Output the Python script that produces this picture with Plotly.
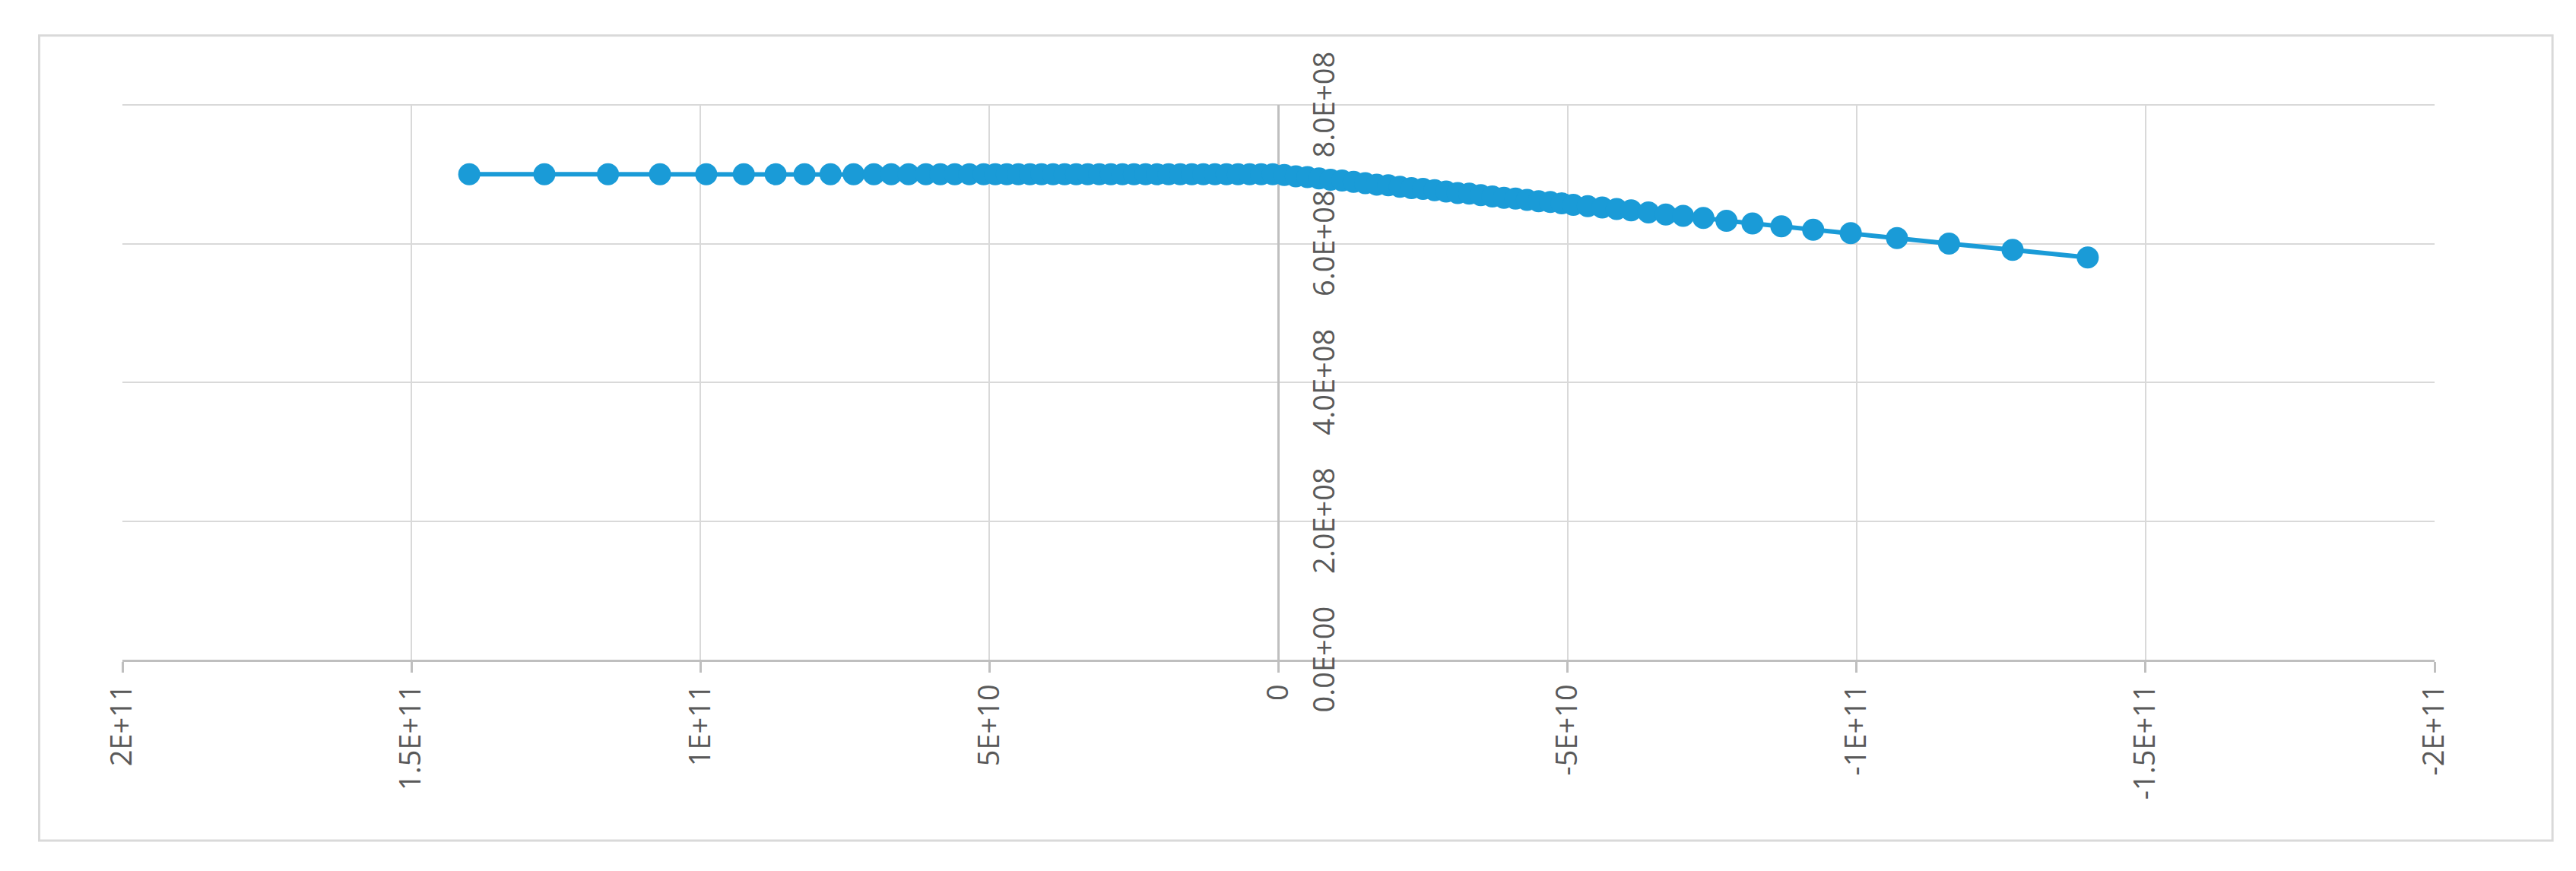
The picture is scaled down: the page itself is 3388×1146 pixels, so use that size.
import plotly.graph_objects as go

# x values in units of 1e10 (positive branch, listed descending)
x_pos = [14.0, 12.7, 11.6, 10.7, 9.9, 9.25, 8.7, 8.2, 7.75, 7.35, 7.0, 6.7, 6.4, 6.1, 5.85, 5.6, 5.35,
         5.1, 4.9, 4.7, 4.5, 4.3, 4.1, 3.9, 3.7, 3.5, 3.3, 3.1, 2.9, 2.7, 2.5, 2.3, 2.1, 1.9, 1.7, 1.5,
         1.3, 1.1, 0.9, 0.7, 0.5, 0.3, 0.1]
# y values (1e8) on positive side
y_pos = [7.0] * len(x_pos)
# negative branch |x| same spacing, y (1e8) corresponding to x_pos order
y_neg = [5.80, 5.91, 6.00, 6.08, 6.15, 6.20, 6.25, 6.29, 6.33, 6.37, 6.40, 6.42, 6.45, 6.48, 6.50, 6.52,
         6.54, 6.56, 6.58, 6.60, 6.61, 6.63, 6.65, 6.66, 6.68, 6.70, 6.72, 6.73, 6.75, 6.77, 6.79, 6.80,
         6.82, 6.84, 6.85, 6.87, 6.89, 6.91, 6.92, 6.94, 6.96, 6.97, 6.99]

x_tickvals = [2e11, 1.5e11, 1e11, 5e10, 0, -5e10, -1e11, -1.5e11, -2e11]
x_ticktext = ["2E+11", "1.5E+11", "1E+11", "5E+10", "0", "-5E+10", "-1E+11", "-1.5E+11", "-2E+11"]
y_tickvals = [0, 2e8, 4e8, 6e8, 8e8]
y_ticktext = ["0.0E+00", "2.0E+08", "4.0E+08", "6.0E+08", "8.0E+08"]

xs = [v * 1e10 for v in x_pos] + [-v * 1e10 for v in reversed(x_pos)]
ys = [v * 1e8 for v in y_pos] + [v * 1e8 for v in reversed(y_neg)]

blue = "#1a9bd7"
fig = go.Figure(go.Scatter(x=xs, y=ys, mode="lines+markers",
                           line=dict(color=blue, width=6),
                           marker=dict(color=blue, size=29)))

font = dict(family="Open Sans", size=38, color="#595959")
annotations = [dict(x=0, y=v, xref="x", yref="y", text=t, textangle=-90, showarrow=False,
                    xanchor="left", yanchor="middle", xshift=30, font=font)
               for v, t in zip(y_tickvals, y_ticktext)]
fig.update_layout(
    width=3388, height=1146, paper_bgcolor="white", plot_bgcolor="white",
    margin=dict(l=153, r=194, t=130, b=286), showlegend=False, font=font,
    xaxis=dict(range=[2e11, -2e11], tickvals=x_tickvals, ticktext=x_ticktext, tickangle=-90,
               showgrid=True, gridcolor="#d9d9d9", gridwidth=2,
               zeroline=True, zerolinecolor="#bfbfbf", zerolinewidth=3,
               showline=True, linecolor="#bfbfbf", linewidth=3,
               ticks="outside", ticklen=14, tickcolor="#bfbfbf", tickwidth=3),
    yaxis=dict(range=[0, 8e8], tickvals=y_tickvals, showticklabels=False,
               showgrid=True, gridcolor="#d9d9d9", gridwidth=2, zeroline=False, showline=False),
    annotations=annotations,
    shapes=[dict(type="rect", xref="paper", yref="paper", x0=-0.036, x1=1.051, y0=-0.326, y1=1.125,
                 line=dict(color="#d9d9d9", width=3)),
            dict(type="line", xref="paper", yref="paper", x0=0, x1=1, y0=1, y1=1,
                 line=dict(color="#d9d9d9", width=2), layer="below")],
)
fig.write_html("out.html")
